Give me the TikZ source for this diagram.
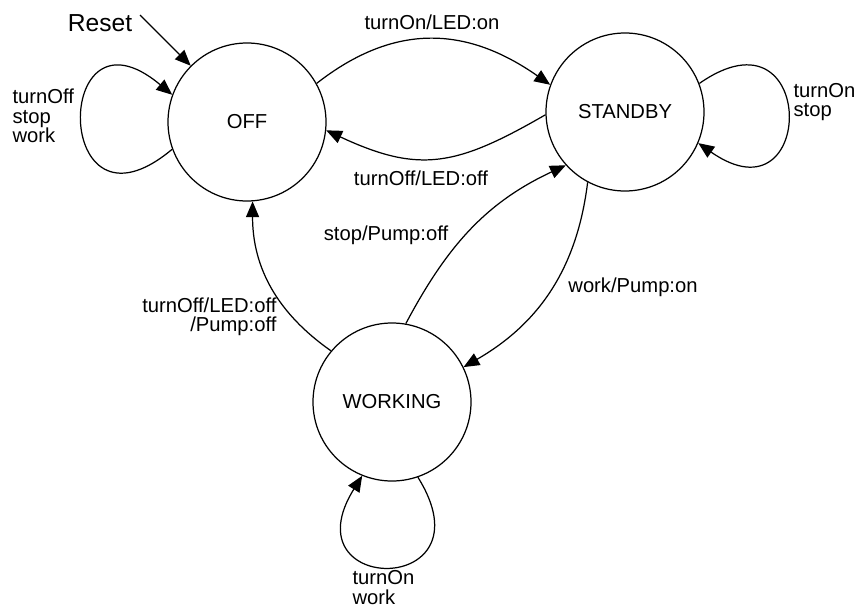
\documentclass[tikz,border=0pt]{standalone}
\usepackage{fontspec}
\setmainfont{Liberation Sans}
\usetikzlibrary{arrows.meta}

\begin{document}
\begin{tikzpicture}[line width=0.7pt, font=\fontsize{11.5}{11}\selectfont,
    >={Triangle[length=9pt,width=7.5pt]},
    state/.style={circle, draw, minimum size=3.16cm, inner sep=0pt},
    lbl/.style={inner sep=0pt}]
    \useasboundingbox (0,0) rectangle (17.2,12.14);

    % 三个状态：圆形节点
    \node[state] (off) at (4.94,9.70) {OFF};
    \node[state] (standby) at (12.50,9.90) {STANDBY};
    \node[state] (working) at (7.84,4.10) {WORKING};

    % 初始转移：Reset 指向 OFF
    \node[lbl, font=\fontsize{14}{14}\selectfont] (reset) at (2.00,11.68) {Reset};
    \coordinate (rst) at (2.80,11.84);
    \draw[->] (rst) -- (off.135);

    % 自环
    \draw[->] (off.200) to[out=220, in=140, looseness=7.4] (off.160);
    \draw[->] (standby.21) to[out=35, in=-35, looseness=6.2] (standby.-23);
    \draw[->] (working.-71) to[out=-58, in=-122, looseness=6.5] (working.-112);

    % 状态之间的转移
    \draw[->] (off.29) to[out=38, in=145, looseness=1.1] (standby.160);
    \draw[->] (standby.182) to[out=210, in=-25, looseness=1.2] (off.-6);
    \draw[->] (working.80) to[out=62, in=205] (standby.222);
    \draw[->] (standby.242) to[out=263, in=30] (working.26);
    \draw[->] (working.140) to[out=145, in=-90] (off.274);

    % 转移标签
    \node[lbl] (lon) at (8.64,11.70) {turnOn/LED:on};
    \node[lbl] (loff) at (8.42,8.58) {turnOff/LED:off};
    \node[lbl] (lstop) at (7.72,7.44) {stop/Pump:off};
    \node[lbl] (lwork) at (12.66,6.40) {work/Pump:on};
    \node[lbl, align=right, anchor=east] (lwoff) at (5.54,5.80) {turnOff/LED:off\\/Pump:off};
    \node[lbl, align=left, anchor=west] (loffloop) at (0.24,9.82) {turnOff\\stop\\work};
    \node[lbl, align=left, anchor=west] (lsbloop) at (15.86,10.10) {turnOn\\stop};
    \node[lbl, align=left, anchor=south west] (lwkloop) at (7.04,0.04) {turnOn\\work};
\end{tikzpicture}
\end{document}
